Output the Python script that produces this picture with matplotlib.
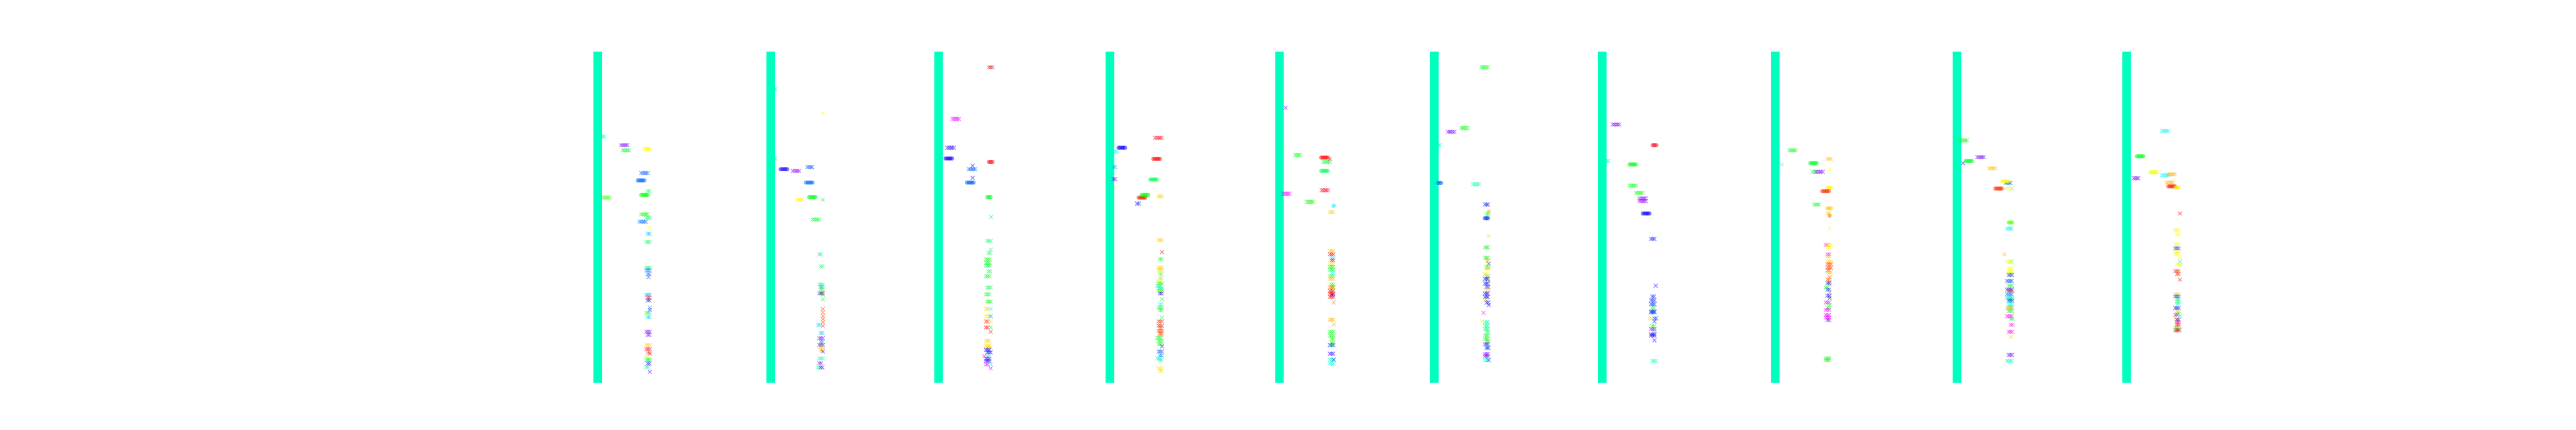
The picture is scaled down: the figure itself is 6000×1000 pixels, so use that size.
import matplotlib
matplotlib.use("Agg")
import matplotlib.pyplot as plt
from matplotlib.colors import hsv_to_rgb

# bar centre of each panel (pixels across the 6000 px figure)
panel_centres = [1392, 1795, 2186, 2585, 2980, 3341, 3732, 4135, 4558, 4953]

# depth range of the column shared by all panels
bar_top, bar_bottom = -1, 496
bar_hue = 165

# each entry: (x offset from bar, depth, repeats, hue in degrees, marker)
panel_1 = [
    (0, 126, 5, 165, 'x'), (54, 139, 5, 270, 'x'), (58, 147, 5, 130, 'x'),
    (109, 145, 4, 60, 'o'), (101, 181, 5, 218, 'x'), (93, 192, 5, 215, 'o'),
    (116, 208, 2, 140, 'x'), (12, 218, 5, 110, 'x'), (101, 214, 5, 120, 'o'),
    (101, 243, 5, 120, 'x'), (113, 248, 3, 140, 'x'), (97, 254, 5, 215, 'x'),
    (121, 263, 1, 60, 'x'), (116, 272, 2, 200, 'x'), (113, 284, 3, 145, 'x'),
    (113, 323, 3, 140, 'x'), (113, 327, 3, 215, 'x'), (116, 333, 2, 215, 'x'),
    (118, 337, 1, 220, 'x'), (113, 364, 3, 200, 'x'), (116, 368, 2, 0, 'x'),
    (116, 372, 2, 235, 'x'), (121, 383, 1, 205, 'x'), (121, 386, 1, 255, 'x'),
    (113, 391, 2, 130, 'x'), (121, 391, 1, 185, 'x'), (116, 397, 2, 195, 'x'),
    (113, 419, 3, 270, 'x'), (116, 424, 2, 270, 'x'), (113, 439, 3, 48, 'x'),
    (113, 445, 3, 345, 'x'), (116, 450, 2, 20, 'x'), (121, 452, 1, 350, 'x'),
    (113, 457, 2, 55, 'x'), (116, 461, 2, 100, 'x'), (113, 462, 3, 165, 'x'),
    (116, 467, 2, 250, 'x'), (113, 472, 2, 150, 'x'), (121, 479, 1, 265, 'x'),
]

panel_2 = [
    (0, 55, 4, 165, 'x'), (121, 91, 1, 60, 'x'), (0, 159, 4, 165, 'x'),
    (23, 175, 5, 245, 'o'), (51, 178, 5, 275, 'x'), (85, 172, 4, 220, 'x'),
    (82, 195, 5, 215, 'o'), (62, 221, 4, 55, 'x'), (89, 217, 5, 125, 'o'),
    (121, 221, 1, 135, 'x'), (97, 251, 5, 130, 'x'), (113, 303, 2, 150, 'x'),
    (116, 321, 2, 140, 'x'), (113, 348, 3, 150, 'x'), (116, 352, 2, 200, 'x'),
    (116, 355, 2, 120, 'x'), (113, 362, 3, 215, 'x'), (116, 361, 2, 10, 'x'),
    (121, 364, 1, 120, 'x'), (121, 371, 1, 130, 'x'), (121, 385, 1, 15, 'x'),
    (121, 390, 1, 15, 'x'), (121, 395, 1, 15, 'x'), (121, 400, 1, 15, 'x'),
    (121, 405, 1, 15, 'x'), (121, 410, 1, 15, 'x'), (110, 409, 2, 190, 'x'),
    (116, 421, 2, 195, 'x'), (113, 429, 3, 270, 'x'), (116, 434, 2, 210, 'x'),
    (113, 439, 3, 250, 'x'), (116, 442, 2, 45, 'x'), (116, 447, 2, 40, 'x'),
    (121, 449, 1, 260, 'x'), (113, 459, 3, 165, 'x'), (113, 466, 2, 270, 'x'),
    (110, 473, 2, 150, 'x'), (116, 473, 2, 265, 'x'),
]

panel_3 = [
    (117, 22, 3, 0, 'x'), (32, 100, 5, 295, 'x'), (20, 143, 5, 250, 'x'),
    (16, 159, 5, 245, 'o'), (79, 170, 1, 240, 'x'), (70, 175, 5, 220, 'x'),
    (79, 188, 1, 240, 'x'), (66, 195, 5, 218, 'o'), (117, 164, 3, 355, 'o'),
    (113, 217, 3, 125, 'o'), (122, 247, 1, 140, 'x'), (113, 283, 3, 145, 'x'),
    (121, 296, 1, 150, 'x'), (116, 301, 2, 140, 'x'), (110, 311, 3, 120, 'x'),
    (110, 316, 3, 125, 'x'), (110, 320, 3, 135, 'x'), (116, 329, 2, 135, 'x'),
    (110, 336, 3, 125, 'x'), (113, 353, 3, 135, 'x'), (110, 363, 3, 130, 'x'),
    (113, 374, 3, 120, 'x'), (110, 385, 2, 48, 'x'), (121, 385, 1, 170, 'x'),
    (110, 396, 3, 55, 'x'), (121, 396, 1, 210, 'x'), (110, 404, 2, 10, 'x'),
    (121, 404, 1, 50, 'x'), (110, 413, 2, 0, 'x'), (121, 413, 1, 120, 'x'),
    (121, 419, 1, 5, 'x'), (110, 433, 3, 48, 'x'), (110, 440, 3, 50, 'x'),
    (113, 443, 3, 52, 'x'), (110, 446, 3, 240, 'x'), (113, 450, 3, 245, 'x'),
    (106, 456, 1, 300, 'x'), (113, 456, 2, 170, 'x'), (110, 460, 3, 255, 'x'),
    (110, 463, 3, 250, 'x'), (110, 468, 2, 295, 'x'), (121, 468, 1, 170, 'x'),
    (121, 474, 1, 285, 'x'),
]

panel_4 = [
    (105, 128, 5, 355, 'x'), (20, 143, 5, 245, 'o'), (8, 149, 3, 178, 'x'),
    (101, 160, 5, 0, 'o'), (8, 172, 2, 200, 'x'), (8, 190, 2, 265, 'x'),
    (94, 191, 5, 140, 'o'), (67, 218, 5, 5, 'o'), (74, 214, 5, 120, 'o'),
    (63, 227, 2, 240, 'x'), (113, 216, 3, 48, 'x'), (113, 282, 3, 48, 'x'),
    (121, 300, 1, 355, 'x'), (116, 310, 2, 125, 'x'), (113, 323, 3, 48, 'x'),
    (113, 327, 3, 50, 'x'), (116, 333, 2, 100, 'x'), (116, 339, 2, 95, 'x'),
    (110, 343, 3, 60, 'x'), (113, 347, 3, 120, 'x'), (110, 350, 3, 170, 'x'),
    (113, 354, 3, 110, 'x'), (116, 356, 2, 180, 'x'), (113, 358, 3, 100, 'x'),
    (116, 360, 2, 70, 'x'), (116, 362, 2, 250, 'x'), (121, 370, 1, 130, 'x'),
    (116, 378, 2, 175, 'x'), (113, 383, 3, 130, 'x'), (116, 387, 2, 130, 'x'),
    (121, 398, 1, 140, 'x'), (113, 404, 3, 10, 'x'), (113, 410, 3, 5, 'x'),
    (116, 414, 2, 25, 'x'), (113, 418, 3, 15, 'x'), (116, 422, 2, 15, 'x'),
    (116, 424, 2, 35, 'x'), (110, 428, 3, 130, 'x'), (113, 433, 3, 115, 'x'),
    (113, 438, 3, 135, 'x'), (121, 441, 1, 255, 'x'), (113, 449, 3, 220, 'x'),
    (116, 455, 2, 215, 'x'), (110, 459, 3, 170, 'x'), (116, 462, 2, 165, 'x'),
    (113, 474, 3, 55, 'x'), (116, 478, 2, 52, 'x'),
]

panel_5 = [
    (14, 83, 1, 270, 'x'), (36, 154, 4, 125, 'x'), (97, 158, 5, 0, 'o'),
    (102, 164, 5, 130, 'x'), (117, 160, 1, 355, 'x'), (97, 178, 5, 140, 'o'),
    (98, 207, 5, 355, 'x'), (8, 212, 5, 295, 'x'), (63, 224, 5, 120, 'x'),
    (126, 230, 1, 185, 'o'), (117, 240, 3, 48, 'x'), (117, 298, 3, 45, 'x'),
    (117, 303, 3, 355, 'x'), (121, 309, 2, 185, 'x'), (121, 312, 2, 355, 'x'),
    (117, 318, 3, 55, 'x'), (117, 322, 3, 120, 'x'), (117, 326, 3, 130, 'x'),
    (121, 332, 2, 180, 'x'), (117, 336, 3, 100, 'x'), (117, 340, 3, 45, 'x'),
    (121, 348, 2, 120, 'x'), (121, 352, 2, 115, 'x'), (117, 353, 3, 30, 'x'),
    (117, 358, 3, 355, 'x'), (117, 362, 3, 5, 'x'), (121, 364, 2, 245, 'x'),
    (117, 367, 3, 0, 'x'), (126, 375, 1, 30, 'x'), (117, 401, 3, 40, 'x'),
    (126, 408, 1, 40, 'x'), (117, 419, 3, 125, 'x'), (117, 425, 3, 120, 'x'),
    (121, 430, 2, 115, 'x'), (121, 436, 2, 125, 'x'), (117, 439, 3, 235, 'x'),
    (121, 439, 1, 125, 'x'), (117, 452, 3, 250, 'x'), (117, 461, 3, 165, 'x'),
    (117, 467, 3, 170, 'x'), (126, 461, 1, 235, 'x'),
]

panel_6 = [
    (109, 22, 5, 125, 'x'), (31, 119, 5, 270, 'x'), (62, 113, 5, 120, 'x'),
    (5, 139, 3, 165, 'x'), (8, 196, 3, 215, 'o'), (89, 198, 5, 160, 'x'),
    (117, 228, 3, 235, 'x'), (126, 239, 1, 40, 'o'), (121, 243, 2, 130, 'x'),
    (117, 249, 3, 228, 'o'), (126, 275, 1, 50, 'x'), (117, 293, 3, 125, 'x'),
    (117, 308, 3, 125, 'x'), (121, 313, 2, 40, 'x'), (126, 317, 1, 230, 'x'),
    (121, 322, 2, 130, 'x'), (121, 324, 2, 45, 'x'), (117, 333, 2, 50, 'x'),
    (121, 336, 2, 100, 'x'), (117, 340, 3, 240, 'x'), (126, 343, 1, 35, 'x'),
    (117, 347, 3, 235, 'x'), (121, 352, 2, 245, 'x'), (121, 355, 2, 48, 'x'),
    (117, 362, 3, 240, 'x'), (117, 367, 3, 245, 'x'), (117, 372, 2, 50, 'x'),
    (121, 375, 2, 235, 'x'), (126, 379, 1, 240, 'x'), (114, 391, 1, 300, 'x'),
    (110, 403, 1, 55, 'x'), (117, 405, 3, 160, 'x'), (117, 410, 3, 150, 'x'),
    (117, 415, 3, 140, 'x'), (121, 420, 2, 150, 'x'), (117, 425, 3, 130, 'x'),
    (117, 430, 3, 120, 'x'), (121, 434, 2, 115, 'x'), (117, 438, 3, 260, 'x'),
    (121, 442, 2, 165, 'x'), (121, 444, 2, 250, 'x'), (117, 453, 3, 270, 'x'),
    (117, 456, 3, 275, 'x'), (117, 462, 3, 165, 'x'), (126, 462, 1, 230, 'x'),
]

panel_7 = [
    (24, 108, 5, 270, 'x'), (117, 139, 3, 355, 'o'), (6, 163, 3, 165, 'x'),
    (63, 168, 5, 125, 'o'), (63, 200, 5, 125, 'x'), (78, 211, 5, 120, 'x'),
    (86, 219, 5, 275, 'x'), (86, 223, 5, 275, 'x'), (94, 242, 5, 240, 'o'),
    (113, 280, 3, 235, 'x'), (124, 350, 1, 245, 'x'), (116, 366, 2, 235, 'x'),
    (113, 372, 3, 230, 'x'), (113, 378, 3, 235, 'x'), (116, 384, 2, 130, 'x'),
    (113, 389, 3, 235, 'x'), (113, 390, 3, 225, 'x'), (110, 399, 2, 55, 'x'),
    (121, 399, 2, 230, 'x'), (121, 404, 1, 235, 'x'), (116, 411, 2, 125, 'x'),
    (113, 415, 3, 275, 'x'), (121, 418, 1, 120, 'x'), (113, 423, 3, 245, 'x'),
    (113, 425, 3, 250, 'x'), (121, 432, 1, 245, 'x'), (116, 463, 3, 165, 'x'),
]

panel_8 = [
    (32, 147, 5, 125, 'x'), (14, 168, 1, 165, 'x'), (81, 166, 5, 130, 'o'),
    (86, 179, 3, 130, 'x'), (95, 179, 5, 270, 'x'), (121, 160, 3, 45, 'x'),
    (126, 175, 1, 60, 'x'), (121, 203, 3, 58, 'o'), (109, 208, 5, 10, 'o'),
    (90, 228, 4, 130, 'x'), (121, 234, 3, 48, 'o'), (121, 241, 2, 50, 'x'),
    (126, 245, 1, 25, 'o'), (126, 264, 1, 60, 'x'), (117, 289, 2, 300, 'x'),
    (121, 289, 3, 55, 'x'), (121, 293, 2, 60, 'x'), (121, 303, 2, 300, 'x'),
    (121, 306, 2, 45, 'x'), (121, 314, 3, 48, 'x'), (121, 318, 3, 15, 'x'),
    (121, 323, 3, 10, 'x'), (121, 327, 2, 20, 'x'), (121, 330, 3, 45, 'x'),
    (126, 337, 1, 15, 'x'), (121, 341, 2, 20, 'x'), (126, 345, 1, 25, 'x'),
    (121, 346, 2, 235, 'x'), (126, 348, 1, 30, 'x'), (117, 353, 2, 120, 'x'),
    (121, 356, 2, 230, 'x'), (126, 360, 1, 25, 'x'), (121, 365, 2, 240, 'x'),
    (126, 366, 1, 30, 'x'), (126, 369, 1, 230, 'x'), (117, 375, 3, 300, 'x'),
    (126, 379, 1, 120, 'x'), (121, 383, 2, 130, 'x'), (117, 386, 3, 300, 'x'),
    (117, 394, 3, 300, 'x'), (117, 398, 3, 295, 'x'), (121, 402, 2, 270, 'x'),
    (117, 459, 3, 125, 'x'), (117, 462, 3, 120, 'x'),
]

panel_9 = [
    (8, 132, 5, 120, 'x'), (47, 157, 5, 265, 'x'), (14, 166, 1, 245, 'x'),
    (20, 163, 5, 130, 'o'), (74, 174, 5, 45, 'x'), (105, 193, 5, 62, 'o'),
    (113, 196, 4, 222, 'x'), (89, 204, 5, 10, 'o'), (113, 204, 3, 62, 'x'),
    (127, 204, 1, 90, 'x'), (120, 255, 3, 100, 'o'), (116, 264, 4, 185, 'x'),
    (110, 303, 1, 40, 'x'), (116, 314, 3, 62, 'x'), (127, 314, 1, 100, 'x'),
    (120, 324, 3, 60, 'x'), (120, 329, 3, 62, 'x'), (120, 333, 3, 60, 'x'),
    (120, 334, 3, 225, 'x'), (116, 343, 4, 225, 'x'), (120, 350, 3, 130, 'x'),
    (116, 356, 4, 230, 'x'), (120, 358, 3, 10, 'x'), (116, 363, 4, 215, 'x'),
    (116, 368, 4, 185, 'x'), (120, 370, 3, 140, 'x'), (120, 373, 3, 230, 'x'),
    (120, 378, 3, 170, 'x'), (120, 382, 3, 180, 'x'), (116, 384, 4, 40, 'x'),
    (120, 388, 3, 120, 'x'), (116, 396, 4, 300, 'x'), (125, 400, 2, 130, 'x'),
    (125, 409, 2, 300, 'x'), (120, 419, 3, 305, 'x'), (125, 427, 1, 48, 'x'),
    (120, 454, 3, 265, 'x'), (116, 463, 4, 165, 'x'),
]

panel_10 = [
    (82, 118, 5, 182, 'x'), (24, 156, 5, 130, 'o'), (55, 180, 5, 62, 'o'),
    (16, 189, 4, 268, 'x'), (82, 184, 5, 182, 'x'), (97, 183, 5, 40, 'x'),
    (93, 195, 5, 42, 'x'), (97, 201, 5, 5, 'o'), (113, 203, 3, 55, 'o'),
    (124, 242, 1, 0, 'x'), (113, 267, 3, 58, 'x'), (117, 273, 2, 58, 'x'),
    (113, 288, 3, 60, 'x'), (113, 294, 3, 230, 'x'), (113, 299, 3, 58, 'x'),
    (113, 303, 3, 60, 'x'), (124, 308, 1, 58, 'x'), (124, 314, 1, 185, 'x'),
    (117, 318, 2, 62, 'x'), (124, 320, 1, 65, 'x'), (113, 328, 3, 10, 'x'),
    (117, 333, 2, 8, 'x'), (124, 341, 1, 5, 'x'), (113, 363, 3, 45, 'x'),
    (113, 366, 3, 225, 'x'), (117, 370, 2, 130, 'x'), (117, 374, 2, 150, 'x'),
    (117, 378, 2, 160, 'x'), (113, 384, 3, 240, 'x'), (117, 388, 2, 50, 'x'),
    (117, 392, 2, 150, 'x'), (113, 394, 2, 320, 'x'), (124, 396, 1, 140, 'x'),
    (113, 400, 2, 70, 'x'), (117, 401, 2, 240, 'x'), (117, 405, 2, 330, 'x'),
    (117, 408, 2, 320, 'x'), (117, 410, 2, 25, 'x'), (113, 413, 2, 100, 'x'),
    (113, 417, 3, 5, 'x'), (117, 416, 2, 330, 'x'), (124, 416, 1, 120, 'x'),
]

panels = [panel_1, panel_2, panel_3, panel_4, panel_5,
          panel_6, panel_7, panel_8, panel_9, panel_10]


def hue_colour(h):
    return hsv_to_rgb((h / 360.0, 1.0, 1.0))


def main():
    fig_w = 6000
    fig = plt.figure(figsize=(60, 10), dpi=100)
    step = 3.75  # spacing between repeated marks in a group

    for centre, marks in zip(panel_centres, panels):
        left = (centre - 30) / fig_w
        ax = fig.add_axes([left, 0.11, 200 / fig_w, 0.77])
        ax.set_xlim(-30, 170)
        ax.set_ylim(bar_bottom, bar_top)
        ax.axis('off')

        # dense column at the left of every panel
        ax.plot([0, 0], [bar_top, bar_bottom], color=hue_colour(bar_hue),
                lw=14.4, solid_capstyle='butt', zorder=1)

        for x0, y, n, hue, m in marks:
            xs = [x0 + k * step for k in range(n)]
            ys = [y] * n
            col = hue_colour(hue)
            if m == 'o':
                ax.scatter(xs, ys, marker='o', s=40, color=col, alpha=0.5,
                           linewidths=0.6, zorder=3, clip_on=False)
            else:
                ax.scatter(xs, ys, marker='x', s=42, color=col, alpha=0.55,
                           linewidths=1.2, zorder=2, clip_on=False)

    fig.savefig("out.png", dpi=100, facecolor='white')


if __name__ == "__main__":
    main()
